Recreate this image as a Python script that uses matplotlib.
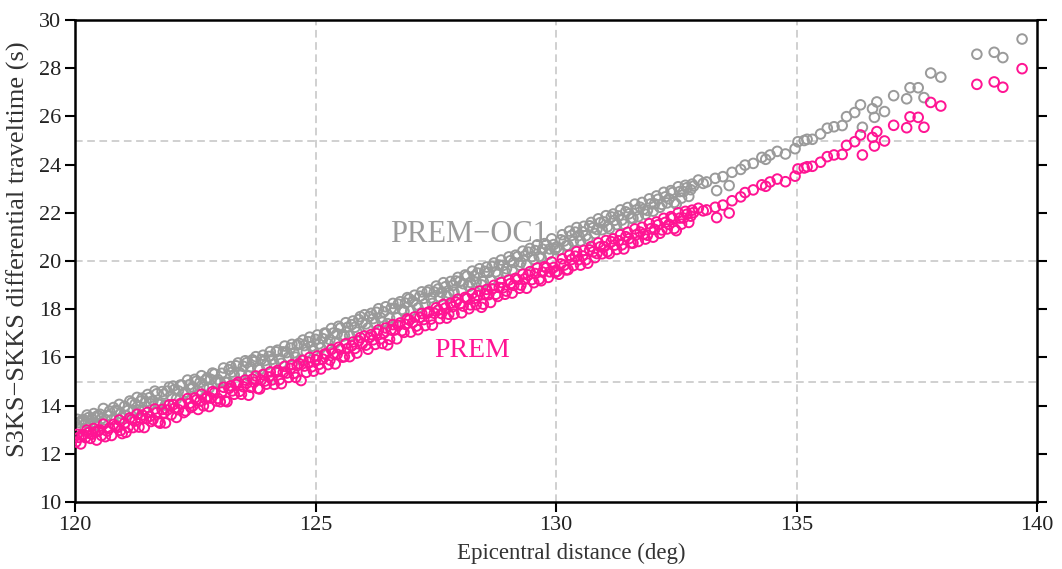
import matplotlib
matplotlib.use("Agg")
import matplotlib.pyplot as plt

# ---------------- data ----------------
distance = [
    120.02, 120.08, 120.15, 120.22, 120.28, 120.35, 120.42, 120.48, 120.55, 120.63, 120.72, 120.8, 120.88, 120.95,
    121.03, 121.1, 121.18, 121.25, 121.33, 121.4, 121.48, 121.55, 121.62, 121.7, 121.77, 121.85, 121.92,
    122.0, 122.07, 122.15, 122.22, 122.3, 122.38, 122.45, 122.52, 122.6, 122.67, 122.75, 122.82, 122.9, 122.97,
    123.05, 123.12, 123.2, 123.27, 123.35, 123.42, 123.5, 123.57, 123.65, 123.72, 123.8, 123.87, 123.95,
    124.03, 124.1, 124.18, 124.25, 124.33, 124.4, 124.48, 124.55, 124.62, 124.7, 124.77, 124.85, 124.92,
    125.0, 125.07, 125.15, 125.22, 125.3, 125.37, 125.45, 125.52, 125.6, 125.67, 125.75, 125.82, 125.9, 125.97,
    126.05, 126.12, 126.2, 126.27, 126.35, 126.42, 126.5, 126.57, 126.65, 126.72, 126.8, 126.87, 126.95,
    127.02, 127.1, 127.17, 127.25, 127.32, 127.4, 127.47, 127.55, 127.62, 127.7, 127.77, 127.85, 127.92,
    128.0, 128.07, 128.15, 128.22, 128.3, 128.37, 128.45, 128.52, 128.6, 128.67, 128.75, 128.82, 128.9, 128.97,
    129.05, 129.12, 129.2, 129.27, 129.35, 129.42, 129.5, 129.57, 129.65, 129.72, 129.8, 129.87, 129.95,
    130.02, 130.1, 130.17, 130.25, 130.32, 130.4, 130.47, 130.55, 130.62, 130.7, 130.77, 130.85, 130.92,
    131.0, 131.07, 131.15, 131.22, 131.3, 131.37, 131.45, 131.52, 131.6, 131.67, 131.75, 131.82, 131.9, 131.97,
    132.05, 132.12, 132.2, 132.27, 132.35, 132.42, 132.5, 132.57, 132.65, 132.72, 132.8, 132.86,
    132.96, 133.06, 133.13, 133.31, 133.34, 133.47, 133.6, 133.66, 133.84, 133.93,
    134.1, 134.28, 134.36, 134.45, 134.6, 134.77, 134.97,
    135.03, 135.16, 135.22, 135.33, 135.5, 135.64, 135.78, 135.95,
    136.04, 136.21, 136.33, 136.37, 136.58, 136.62, 136.67, 136.83,
    137.02, 137.29, 137.36, 137.53, 137.65, 137.79, 138.0,
    138.75, 139.11, 139.29, 139.69,
    # second group of events in the dense part
    120.05, 120.12, 120.18, 120.25, 120.32, 120.39, 120.45, 120.52, 120.59, 120.67, 120.76, 120.84, 120.92, 120.98,
    121.06, 121.14, 121.21, 121.29, 121.36, 121.44, 121.51, 121.58, 121.66, 121.73, 121.81, 121.88, 121.96,
    122.04, 122.11, 122.19, 122.26, 122.34, 122.41, 122.49, 122.56, 122.63, 122.71, 122.79, 122.86, 122.94,
    123.02, 123.09, 123.16, 123.24, 123.31, 123.39, 123.46, 123.54, 123.61, 123.69, 123.76, 123.84, 123.91, 123.98,
    124.06, 124.14, 124.21, 124.29, 124.36, 124.44, 124.51, 124.59, 124.66, 124.74, 124.81, 124.88, 124.96,
    125.04, 125.11, 125.19, 125.26, 125.33, 125.41, 125.48, 125.56, 125.63, 125.71, 125.78, 125.86, 125.93,
    126.02, 126.09, 126.16, 126.24, 126.31, 126.39, 126.46, 126.54, 126.61, 126.69, 126.76, 126.84, 126.91, 126.98,
    127.06, 127.13, 127.21, 127.28, 127.36, 127.43, 127.51, 127.58, 127.66, 127.73, 127.81, 127.88, 127.96,
    128.04, 128.11, 128.19, 128.26, 128.34, 128.41, 128.49, 128.56, 128.64, 128.71, 128.79, 128.86, 128.94,
    129.02, 129.09, 129.16, 129.24, 129.31, 129.39, 129.46, 129.54, 129.61, 129.69, 129.76, 129.84, 129.91, 129.98,
    130.06, 130.13, 130.21, 130.28, 130.36, 130.43, 130.51, 130.58, 130.66, 130.73, 130.81, 130.88, 130.96,
    131.04, 131.11, 131.19, 131.26, 131.34, 131.41, 131.49, 131.56, 131.64, 131.71, 131.79, 131.86, 131.94,
    132.02, 132.09, 132.16, 132.24, 132.31, 132.39, 132.46, 132.54, 132.61, 132.69, 132.76, 132.83,
]

prem_oc1 = [
    13.11, 13.30, 13.40, 13.29, 13.50, 13.43, 13.52, 13.59, 13.46, 13.41, 13.77, 13.92, 13.79, 13.67,
    13.97, 13.80, 14.12, 14.06, 13.81, 14.31, 14.16, 14.33, 14.20, 14.49, 14.05, 14.48, 14.60,
    14.40, 14.67, 14.61, 14.85, 14.56, 14.87, 14.77, 15.01, 14.97, 14.77, 15.15, 15.09, 15.31, 15.08,
    15.34, 14.98, 15.49, 15.39, 15.65, 15.37, 15.63, 15.78, 15.61, 15.82, 15.56, 15.91, 15.87,
    16.04, 15.92, 16.23, 15.93, 16.23, 16.20, 16.39, 16.19, 16.51, 15.89, 16.49, 16.65, 16.46,
    16.75, 16.56, 16.78, 16.99, 16.74, 17.01, 16.98, 17.22, 16.91, 17.25, 17.36, 17.25, 17.57, 17.44,
    17.39, 17.70, 17.61, 17.87, 17.65, 17.89, 17.40, 18.03, 18.02, 18.21, 17.99, 18.25, 18.43,
    18.32, 18.18, 18.54, 18.45, 18.71, 18.47, 18.71, 18.84, 18.70, 18.93, 18.67, 18.98, 19.17,
    19.15, 19.06, 19.37, 19.11, 19.37, 19.50, 19.01, 19.57, 19.53, 19.77, 19.55, 19.83, 19.82, 19.68,
    20.01, 19.94, 20.18, 19.95, 20.21, 20.37, 20.18, 20.43, 20.19, 20.49, 20.67, 20.50, 20.68,
    20.57, 20.88, 20.83, 20.64, 21.06, 21.20, 21.05, 21.21, 21.05, 21.46, 21.38, 21.31, 21.59,
    21.62, 21.42, 21.83, 21.69, 21.87, 21.70, 22.04, 21.96, 21.77, 22.12, 22.23, 22.14, 22.10, 22.37,
    22.37, 22.56, 22.35, 22.66, 22.58, 22.84, 22.36, 22.88, 22.88, 23.04, 22.96, 23.11,
    23.36, 23.22, 23.28, 23.43, 22.92, 23.50, 23.13, 23.68, 23.80, 23.98,
    24.05, 24.30, 24.22, 24.40, 24.55, 24.44, 24.66,
    24.95, 25.00, 25.05, 25.05, 25.27, 25.51, 25.57, 25.62,
    25.99, 26.16, 26.48, 25.55, 26.32, 25.96, 26.60, 26.20,
    26.86, 26.73, 27.19, 27.19, 26.78, 27.80, 27.63,
    28.58, 28.66, 28.44, 29.21,
    # second group
    13.43, 13.03, 13.42, 13.61, 13.26, 13.67, 13.19, 13.64, 13.88, 13.59, 13.41, 13.80, 14.05, 13.49,
    13.59, 14.19, 13.79, 14.34, 14.18, 13.79, 14.46, 14.08, 14.60, 14.07, 14.58, 14.02, 14.77,
    14.81, 14.28, 14.85, 14.48, 15.06, 14.69, 15.09, 14.61, 15.24, 15.05, 14.73, 15.35, 14.96,
    14.96, 15.56, 14.96, 15.62, 15.27, 15.77, 15.27, 15.86, 15.23, 15.90, 16.03, 15.49, 16.09, 15.69,
    16.24, 15.72, 16.30, 15.75, 16.47, 16.01, 16.54, 16.01, 16.58, 16.72, 16.22, 16.84, 16.27,
    16.93, 16.39, 17.01, 16.57, 17.20, 16.60, 17.29, 16.88, 17.44, 16.90, 17.51, 17.05, 17.69,
    17.77, 17.22, 17.83, 17.42, 18.02, 17.46, 18.10, 17.63, 18.24, 17.65, 18.31, 17.92, 18.48, 17.93,
    18.58, 18.05, 18.72, 18.22, 18.79, 18.24, 18.96, 18.51, 19.10, 18.53, 19.15, 18.70, 19.32,
    18.78, 19.42, 18.95, 19.58, 19.12, 19.68, 19.14, 19.75, 19.21, 19.92, 19.46, 20.04, 19.55,
    20.17, 19.63, 20.24, 19.83, 20.41, 19.83, 20.52, 20.06, 20.67, 20.14, 20.72, 20.28, 20.92, 20.48,
    20.45, 21.09, 20.63, 21.24, 20.81, 21.39, 20.83, 21.44, 20.91, 21.60, 21.14, 21.75, 21.30,
    21.88, 21.34, 21.95, 21.51, 22.12, 21.53, 22.22, 21.78, 22.36, 21.84, 22.43, 21.94, 22.58,
    22.07, 22.70, 22.23, 22.85, 22.41, 22.92, 22.43, 23.08, 22.61, 23.14, 22.68, 23.19,
]

prem = [
    12.49, 12.68, 12.78, 12.67, 12.88, 12.81, 12.90, 12.97, 12.76, 12.71, 13.07, 13.22, 13.09, 12.97,
    13.27, 13.10, 13.42, 13.36, 13.11, 13.61, 13.46, 13.55, 13.42, 13.71, 13.27, 13.70, 13.82,
    13.62, 13.89, 13.83, 14.07, 13.78, 14.09, 13.99, 14.23, 14.19, 13.99, 14.37, 14.31, 14.53, 14.30,
    14.56, 14.20, 14.71, 14.61, 14.87, 14.59, 14.78, 14.93, 14.76, 14.97, 14.71, 15.06, 15.02,
    15.19, 15.07, 15.38, 15.08, 15.38, 15.35, 15.54, 15.34, 15.66, 15.04, 15.64, 15.80, 15.61,
    15.90, 15.71, 15.93, 16.14, 15.89, 16.16, 16.13, 16.34, 16.03, 16.37, 16.48, 16.37, 16.69, 16.56,
    16.51, 16.82, 16.73, 16.99, 16.77, 17.01, 16.52, 17.15, 17.14, 17.33, 17.11, 17.37, 17.55,
    17.44, 17.30, 17.66, 17.57, 17.83, 17.59, 17.83, 17.96, 17.82, 18.05, 17.79, 18.10, 18.29,
    18.22, 18.13, 18.44, 18.18, 18.44, 18.57, 18.08, 18.64, 18.60, 18.84, 18.62, 18.90, 18.89, 18.75,
    19.06, 18.99, 19.23, 19.00, 19.26, 19.42, 19.23, 19.48, 19.24, 19.54, 19.72, 19.55, 19.73,
    19.57, 19.88, 19.83, 19.64, 20.06, 20.20, 20.05, 20.21, 20.05, 20.46, 20.38, 20.31, 20.59,
    20.59, 20.39, 20.80, 20.66, 20.84, 20.67, 21.01, 20.93, 20.74, 21.09, 21.20, 21.11, 21.07, 21.34,
    21.31, 21.50, 21.29, 21.60, 21.52, 21.78, 21.26, 21.78, 21.78, 21.94, 21.86, 22.01,
    22.19, 22.08, 22.12, 22.23, 21.80, 22.32, 21.99, 22.50, 22.66, 22.84,
    22.95, 23.16, 23.10, 23.28, 23.40, 23.29, 23.52,
    23.82, 23.86, 23.91, 23.93, 24.10, 24.33, 24.40, 24.42,
    24.80, 24.95, 25.23, 24.40, 25.13, 24.77, 25.37, 24.98,
    25.63, 25.53, 25.98, 25.96, 25.55, 26.58, 26.43,
    27.33, 27.43, 27.21, 27.98,
    # second group
    12.81, 12.41, 12.80, 12.99, 12.64, 13.05, 12.57, 12.99, 13.23, 12.94, 12.76, 13.15, 13.40, 12.84,
    12.89, 13.49, 13.09, 13.64, 13.48, 13.09, 13.72, 13.34, 13.86, 13.33, 13.84, 13.28, 14.03,
    14.04, 13.51, 14.08, 13.71, 14.29, 13.92, 14.32, 13.84, 14.47, 14.28, 13.96, 14.58, 14.19,
    14.16, 14.76, 14.16, 14.82, 14.47, 14.97, 14.47, 15.06, 14.43, 15.10, 15.23, 14.69, 15.29, 14.89,
    15.40, 14.88, 15.46, 14.91, 15.63, 15.17, 15.70, 15.17, 15.74, 15.88, 15.38, 16.00, 15.43,
    16.06, 15.52, 16.14, 15.70, 16.33, 15.73, 16.42, 16.01, 16.57, 16.03, 16.64, 16.18, 16.82,
    16.89, 16.34, 16.95, 16.54, 17.14, 16.58, 17.22, 16.75, 17.36, 16.77, 17.43, 17.04, 17.60, 17.05,
    17.68, 17.15, 17.82, 17.32, 17.89, 17.34, 18.06, 17.61, 18.20, 17.63, 18.25, 17.80, 18.42,
    17.85, 18.49, 18.02, 18.65, 18.19, 18.75, 18.21, 18.82, 18.28, 18.99, 18.53, 19.11, 18.62,
    19.21, 18.67, 19.28, 18.87, 19.45, 18.87, 19.56, 19.10, 19.71, 19.18, 19.76, 19.32, 19.96, 19.52,
    19.45, 20.09, 19.63, 20.24, 19.81, 20.39, 19.83, 20.44, 19.91, 20.60, 20.14, 20.75, 20.30,
    20.85, 20.31, 20.92, 20.48, 21.09, 20.50, 21.19, 20.75, 21.33, 20.81, 21.40, 20.91, 21.55,
    20.99, 21.62, 21.15, 21.77, 21.33, 21.84, 21.35, 22.00, 21.53, 22.06, 21.60, 22.11,
]

x_ticks = [120, 125, 130, 135, 140]
y_ticks = [10, 12, 14, 16, 18, 20, 22, 24, 26, 28, 30]
grid_x = [125, 130, 135]
grid_y = [15, 20, 25]

GRAY = "#9a9a9a"
PINK = "#ff1493"

# ---------------- figure ----------------
plt.rcParams["font.family"] = ["Liberation Serif", "DejaVu Serif"]
fig = plt.figure(figsize=(10.62, 5.69), dpi=100)
ax = fig.add_axes([75 / 1062, 1 - 502 / 569, (1037 - 75) / 1062, (502 - 20) / 569])

for gx in grid_x:
    ax.axvline(gx, color="#c4c4c4", lw=1.1, ls=(0, (5, 3)), zorder=0)
for gy in grid_y:
    ax.axhline(gy, color="#c4c4c4", lw=1.1, ls=(0, (5, 3)), zorder=0)

ax.scatter(distance, prem_oc1, s=48, facecolors="none", edgecolors=GRAY,
           linewidths=1.4, zorder=2)
ax.scatter(distance, prem, s=48, facecolors="none", edgecolors=PINK,
           linewidths=1.4, zorder=3)

ax.text(128.2, 21.08, "PREM\u2212OC1", color=GRAY, fontsize=22,
        ha="center", va="center")
ax.text(128.25, 16.3, "PREM", color=PINK, fontsize=20,
        ha="center", va="center")

ax.set_xlim(120, 140)
ax.set_ylim(10, 30)
ax.set_xticks(x_ticks)
ax.set_yticks(y_ticks)
ax.tick_params(axis="both", direction="out", length=7, width=1.5,
               labelsize=16, colors="black", labelcolor="#222222")
ax.tick_params(axis="y", right=True, labelright=False, pad=3)
ax.tick_params(axis="x", pad=3)
for sp in ax.spines.values():
    sp.set_linewidth(1.8)
    sp.set_color("black")

ax.set_xlabel("Epicentral distance (deg)", fontsize=16.5, color="#333333")
ax.xaxis.set_label_coords(0.516, -0.085)
ax.set_ylabel("S3KS\u2212SKKS differential traveltime (s)", fontsize=19,
              color="#333333")
ax.yaxis.set_label_coords(-0.047, 0.525)

fig.savefig("out.png", dpi=100)
